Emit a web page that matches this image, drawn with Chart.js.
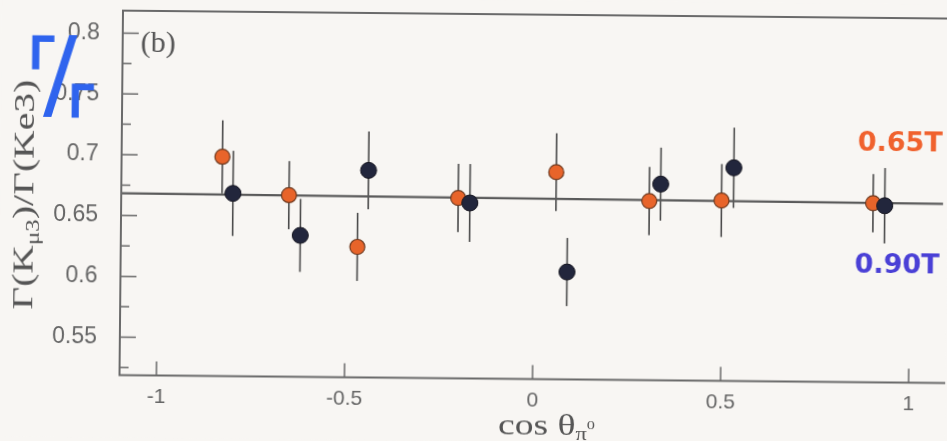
<!DOCTYPE html>
<html>
<head>
<meta charset="utf-8">
<script src="https://cdn.jsdelivr.net/npm/chart.js@4.4.0/dist/chart.umd.min.js"></script>
<style>
  html, body { margin: 0; background: #f8f6f3; overflow: hidden; }
  canvas { display: block; background: #f8f6f3; transform: rotate(0.55deg); }
</style>
</head>
<body>
<canvas id="canvas" width="947" height="441"></canvas>
<script>
// values
const xOrange = [-0.830, -0.652, -0.469, -0.202, 0.058, 0.306, 0.498, 0.901];
const yOrange = [0.699, 0.668, 0.626, 0.667, 0.689, 0.666, 0.667, 0.666];
const eOrange = [0.030, 0.028, 0.028, 0.028, 0.032, 0.028, 0.030, 0.024];

const xBlue = [-0.801, -0.621, -0.441, -0.171, 0.089, 0.336, 0.530, 0.932];
const yBlue = [0.669, 0.635, 0.689, 0.663, 0.607, 0.680, 0.694, 0.664];
const eBlue = [0.035, 0.030, 0.032, 0.032, 0.028, 0.030, 0.033, 0.031];

const fitX = [-1.098, 1.087];
const fitY = [0.6682, 0.6660];

const xRange = [-1.098, 1.074];
const yRange = [0.5188, 0.8184];
const xTicks = [-1, -0.5, 0, 0.5, 1];
const xTickLabels = ['-1', '-0.5', '0', '0.5', '1'];
const yTicks = [0.55, 0.6, 0.65, 0.7, 0.75, 0.8];
const yTickLabels = ['0.55', '0.6', '0.65', '0.7', '0.75', '0.8'];
const yMinor = [0.525, 0.575, 0.625, 0.675, 0.725, 0.775];

const axisGray = '#6a6a6a';

// draws a string made of [text, fontSize, yOffset] pieces, stretched to a given width
function drawPieces(ctx, pieces, x, y, width) {
  let total = 0;
  pieces.forEach(p => {
    ctx.font = p[1] + 'px "Liberation Serif"';
    total += ctx.measureText(p[0]).width;
  });
  const k = width / total;
  ctx.save();
  ctx.translate(x, y);
  ctx.scale(k, 1);
  let cx = 0;
  pieces.forEach(p => {
    ctx.font = p[1] + 'px "Liberation Serif"';
    ctx.fillText(p[0], cx, p[2]);
    cx += ctx.measureText(p[0]).width;
  });
  ctx.restore();
}

const errorBars = {
  id: 'errorBars',
  beforeDatasetsDraw(chart) {
    const ctx = chart.ctx, sx = chart.scales.x, sy = chart.scales.y;
    ctx.save();
    ctx.strokeStyle = '#4a4a4a';
    ctx.lineWidth = 1.6;
    chart.data.datasets.forEach(ds => {
      if (!ds.errors) return;
      ds.data.forEach((pt, i) => {
        const px = sx.getPixelForValue(pt.x);
        ctx.beginPath();
        ctx.moveTo(px, sy.getPixelForValue(pt.y + ds.errors[i]));
        ctx.lineTo(px, sy.getPixelForValue(pt.y - ds.errors[i]));
        ctx.stroke();
      });
    });
    ctx.restore();
  }
};

const frameAndText = {
  id: 'frameAndText',
  afterDraw(chart) {
    const ctx = chart.ctx, a = chart.chartArea;
    const sx = chart.scales.x, sy = chart.scales.y;
    ctx.save();
    // frame
    ctx.strokeStyle = axisGray;
    ctx.lineWidth = 2;
    ctx.beginPath();
    ctx.moveTo(a.right + 10, a.top);
    ctx.lineTo(a.left, a.top);
    ctx.lineTo(a.left, a.bottom);
    ctx.lineTo(a.right + 10, a.bottom);
    ctx.stroke();
    // inward ticks
    ctx.lineWidth = 1.5;
    ctx.beginPath();
    yTicks.forEach(v => {
      const p = sy.getPixelForValue(v);
      ctx.moveTo(a.left, p); ctx.lineTo(a.left + 16, p);
    });
    yMinor.forEach(v => {
      const p = sy.getPixelForValue(v);
      ctx.moveTo(a.left, p); ctx.lineTo(a.left + 9, p);
    });
    xTicks.forEach(v => {
      const p = sx.getPixelForValue(v);
      ctx.moveTo(p, a.bottom); ctx.lineTo(p, a.bottom - 14);
    });
    ctx.stroke();

    // panel label and axis titles
    ctx.fillStyle = '#555';
    ctx.textBaseline = 'alphabetic';
    ctx.font = '30px "Liberation Serif"';
    ctx.fillText('(b)', 139, 55);

    drawPieces(ctx, [['cos ', 30, 0], ['θ', 30, 0], ['π', 18, 5], ['0', 13, -6]], 500, 434, 97);

    ctx.save();
    ctx.translate(33, 199);
    ctx.rotate(-Math.PI / 2);
    drawPieces(ctx, [['Γ(K', 30, 0], ['μ3', 19, 6], [')/Γ(Ke3)', 30, 0]], -115, 0, 230);
    ctx.restore();

    // handwritten notes on the scan
    ctx.font = 'bold 27px "DejaVu Sans"';
    ctx.textAlign = 'left';
    ctx.fillStyle = '#f0622e';
    ctx.fillText('0.65T', 857, 147);
    ctx.fillStyle = '#4a40d6';
    ctx.fillText('0.90T', 855, 269);

    ctx.fillStyle = '#2f64ee';
    ctx.strokeStyle = '#2f64ee';
    ctx.lineWidth = 3;
    ctx.font = '42px "DejaVu Sans"';
    ctx.fillText('Γ', 28, 72);
    ctx.strokeText('Γ', 28, 72);
    ctx.fillText('Γ', 68, 120);
    ctx.strokeText('Γ', 68, 120);
    ctx.font = '100px "DejaVu Sans"';
    ctx.fillText('/', 42, 112);
    ctx.restore();
  }
};

const ctx = document.getElementById('canvas').getContext('2d');
new Chart(ctx, {
  type: 'scatter',
  data: {
    datasets: [
      {
        label: '0.90T',
        data: xBlue.map((x, i) => ({ x: x, y: yBlue[i] })),
        errors: eBlue,
        pointRadius: 8,
        pointBackgroundColor: '#22263c',
        pointBorderColor: '#15151f',
        pointBorderWidth: 1,
        order: 0
      },
      {
        label: '0.65T',
        data: xOrange.map((x, i) => ({ x: x, y: yOrange[i] })),
        errors: eOrange,
        pointRadius: 7.5,
        pointBackgroundColor: '#e8642a',
        pointBorderColor: '#6e3a20',
        pointBorderWidth: 1.2,
        order: 1
      },
      {
        label: 'fit',
        type: 'line',
        data: fitX.map((x, i) => ({ x: x, y: fitY[i] })),
        borderColor: '#5a5a5a',
        borderWidth: 2.2,
        pointRadius: 0,
        fill: false,
        clip: false,
        order: 2
      }
    ]
  },
  options: {
    responsive: false,
    animation: false,
    layout: { padding: { top: 14, right: 0, bottom: 0, left: 0 } },
    plugins: { legend: { display: false }, tooltip: { enabled: false } },
    scales: {
      x: {
        type: 'linear',
        min: xRange[0],
        max: xRange[1],
        afterBuildTicks: s => { s.ticks = xTicks.map(v => ({ value: v })); },
        afterFit: s => {
          s.height = 62.6;
          s.paddingLeft = 0; s.paddingRight = 0; s.paddingTop = 0; s.paddingBottom = 0;
        },
        grid: { display: false, drawTicks: false },
        border: { display: false },
        ticks: {
          padding: 9,
          color: '#666',
          font: { family: '"Liberation Sans"', size: 21 },
          callback: (v, i) => xTickLabels[i]
        }
      },
      y: {
        type: 'linear',
        min: yRange[0],
        max: yRange[1],
        afterBuildTicks: s => { s.ticks = yTicks.map(v => ({ value: v })); },
        afterFit: s => {
          s.width = 121;
          s.paddingLeft = 0; s.paddingRight = 0; s.paddingTop = 0; s.paddingBottom = 0;
        },
        grid: { display: false, drawTicks: false },
        border: { display: false },
        ticks: {
          padding: 23,
          color: '#666',
          font: { family: '"Liberation Sans"', size: 23 },
          callback: (v, i) => yTickLabels[i]
        }
      }
    }
  },
  plugins: [errorBars, frameAndText]
});
</script>
</body>
</html>
